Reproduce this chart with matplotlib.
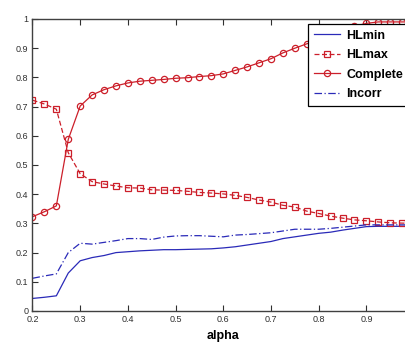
import numpy as np
from matplotlib import pyplot as plt

plt.rcParams['font.family'] = ['Liberation Sans', 'DejaVu Sans']

alpha = np.arange(0.2, 1.0001, 0.025)
hlmin = [0.043, 0.047, 0.052, 0.13, 0.172, 0.183, 0.19, 0.2, 0.203, 0.206, 0.208,
         0.21, 0.21, 0.211, 0.212, 0.213, 0.216, 0.22, 0.226, 0.232, 0.238, 0.248,
         0.254, 0.26, 0.266, 0.27, 0.277, 0.283, 0.289, 0.29, 0.29, 0.29, 0.29]
hlmax = [0.722, 0.709, 0.691, 0.542, 0.47, 0.443, 0.435, 0.428, 0.422, 0.421, 0.415,
         0.414, 0.413, 0.41, 0.406, 0.404, 0.401, 0.396, 0.389, 0.38, 0.373, 0.362,
         0.356, 0.342, 0.334, 0.325, 0.318, 0.312, 0.309, 0.305, 0.302, 0.301, 0.3]
complete = [0.323, 0.34, 0.36, 0.588, 0.702, 0.74, 0.758, 0.771, 0.781, 0.787, 0.79,
            0.793, 0.797, 0.799, 0.803, 0.806, 0.812, 0.824, 0.836, 0.85, 0.864, 0.884,
            0.9, 0.915, 0.93, 0.945, 0.96, 0.975, 0.985, 0.99, 0.99, 0.99, 0.99]
incorr = [0.112, 0.12, 0.127, 0.2, 0.232, 0.229, 0.235, 0.241, 0.248, 0.248, 0.245,
          0.253, 0.257, 0.258, 0.258, 0.256, 0.254, 0.26, 0.262, 0.265, 0.268, 0.274,
          0.28, 0.28, 0.28, 0.283, 0.287, 0.291, 0.295, 0.295, 0.295, 0.295, 0.295]

red = '#cc1f2a'
blue = '#2a2ab8'

fig = plt.figure(figsize=(4.06, 3.42), dpi=100)
# axes runs past the right edge of the figure like the reference crop
ax = fig.add_axes([32.5/406, 31/342, 381.6/406, 292/342])

ax.plot(alpha, hlmin, color=blue, lw=0.9, label='HLmin')
ax.plot(alpha, hlmax, color=red, lw=0.9, ls=(0, (4, 2)), marker='s', ms=4.5,
        mfc='none', mew=0.9, label='HLmax')
ax.plot(alpha, complete, color=red, lw=0.9, marker='o', ms=4.5,
        mfc='none', mew=0.9, label='Complete')
ax.plot(alpha, incorr, color=blue, lw=0.9, ls=(0, (6, 2, 1, 2)), label='Incorr')

ax.set_xlim(0.2, 1.0)
ax.set_ylim(0, 1)
ax.set_xticks([0.2, 0.3, 0.4, 0.5, 0.6, 0.7, 0.8, 0.9])
ax.set_xticklabels(['0.2', '0.3', '0.4', '0.5', '0.6', '0.7', '0.8', '0.9'])
ax.set_yticks(np.arange(0, 1.01, 0.1))
ax.set_yticklabels(['0', '0.1', '0.2', '0.3', '0.4', '0.5', '0.6', '0.7', '0.8', '0.9', '1'])
ax.tick_params(direction='in', length=4, width=0.8, labelsize=6.5, pad=3,
               top=True, right=True, colors='#303030')
for s in ax.spines.values():
    s.set_color('#404040')
    s.set_linewidth(1.0)

ax.set_xlabel('alpha', fontsize=9, fontweight='bold', labelpad=4)

leg = ax.legend(loc='upper left', bbox_to_anchor=(0.722, 0.983), borderaxespad=0,
                prop={'size': 9, 'weight': 'bold'}, fancybox=False, framealpha=1,
                edgecolor='black', handlelength=2.1, handletextpad=0.5,
                labelspacing=0.6, borderpad=0.45)
leg.get_frame().set_linewidth(0.9)

plt.savefig('out.png', dpi=100)
